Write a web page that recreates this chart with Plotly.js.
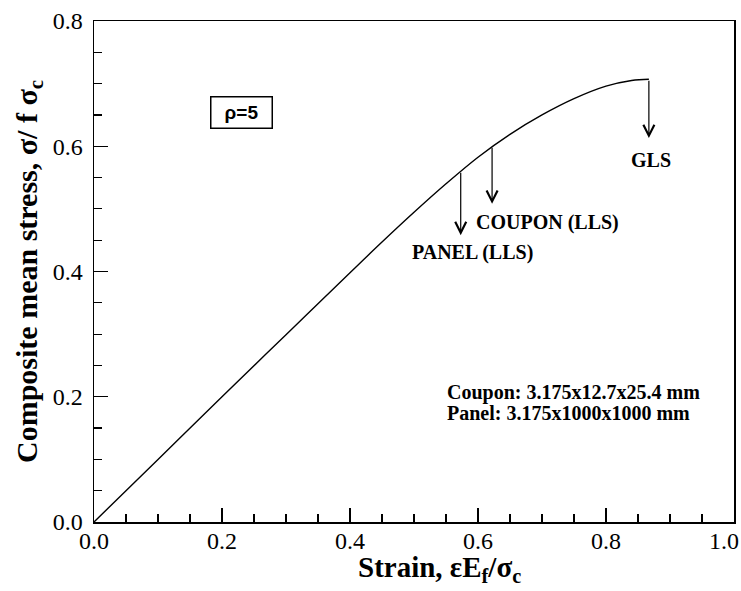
<!DOCTYPE html>
<html>
<head>
<meta charset="utf-8">
<script src="https://cdn.plot.ly/plotly-3.0.1.min.js"></script>
<style>
  html, body { margin: 0; padding: 0; background: #fff; }
  #chart { width: 741px; height: 591px; }
</style>
</head>
<body>
<div id="chart"></div>
<script>
// Normalised strain and composite mean stress (rho = 5)
const strain = [0, 0.1, 0.2, 0.3, 0.4, 0.45, 0.5, 0.55, 0.6, 0.65, 0.7, 0.75, 0.8, 0.84, 0.867];
const stress = [0, 0.1, 0.2, 0.299, 0.398, 0.447, 0.4945, 0.540, 0.5825, 0.619, 0.650, 0.676, 0.696, 0.705, 0.707];

// Failure points marked with arrows: strain at failure, stress on the curve, arrow tip
const failLabels = ['PANEL (LLS)', 'COUPON (LLS)', 'GLS'];
const failStrain = [0.573, 0.622, 0.867];
const failStress = [0.560, 0.600, 0.707];
const failTip = [0.458, 0.508, 0.613];

// Label positions for the failure modes
const labelX = [0.591, 0.709, 0.870];
const labelY = [0.430, 0.478, 0.578];

// Specimen sizes
const specimenNotes = ['Coupon: 3.175x12.7x25.4 mm', 'Panel: 3.175x1000x1000 mm'];
const noteY = [0.206, 0.174];

// Axis ticks
const xTicks = [0, 0.2, 0.4, 0.6, 0.8, 1.0];
const yTicks = [0, 0.2, 0.4, 0.6, 0.8];
const xTickText = ['0.0', '0.2', '0.4', '0.6', '0.8', '1.0'];
const yTickText = ['0.0', '0.2', '0.4', '0.6', '0.8'];

const xTitle = '<b>Strain, εE<sub>f</sub>/σ<sub>c</sub></b>';
const yTitle = '<b>Composite mean stress, σ/ f σ<sub>c</sub></b>';

const serif = 'Liberation Serif';
const tickFont = { family: serif, size: 24, color: '#000' };

const annotations = [];
failStrain.forEach((x, i) => {
  annotations.push({
    x: x, y: failTip[i], xref: 'x', yref: 'y',
    ax: x, ay: failStress[i], axref: 'x', ayref: 'y',
    text: '', showarrow: true,
    arrowhead: 5, arrowsize: 1.8, arrowwidth: 1.2, arrowcolor: '#000'
  });
  annotations.push({
    x: labelX[i], y: labelY[i], xref: 'x', yref: 'y',
    text: '<b>' + failLabels[i] + '</b>', showarrow: false,
    font: { family: serif, size: 20, color: '#000' }
  });
});

specimenNotes.forEach((t, i) => {
  annotations.push({
    x: 0.548, y: noteY[i], xref: 'x', yref: 'y', xanchor: 'left',
    text: '<b>' + t + '</b>', showarrow: false,
    font: { family: serif, size: 20, color: '#000' }
  });
});

// rho label in its frame
annotations.push({
  x: 0.231, y: 0.654, xref: 'x', yref: 'y',
  text: '<b>ρ=5</b>', showarrow: false,
  width: 54, height: 24, borderpad: 3,
  bordercolor: '#000', borderwidth: 1.5, bgcolor: '#fff',
  font: { family: 'Liberation Sans', size: 19, color: '#000' }
});

// last x tick label, kept inside the right edge of the page
const lastTick = xTickText.length - 1;
annotations.push({
  x: 1, y: -0.038, xref: 'paper', yref: 'paper',
  xanchor: 'right', yanchor: 'middle', xshift: 7,
  text: xTickText[lastTick], showarrow: false, font: tickFont
});

// x-axis title, placed under the tick labels
annotations.push({
  x: 0.54, y: -0.094, xref: 'paper', yref: 'paper',
  xanchor: 'center', yanchor: 'middle',
  text: xTitle, showarrow: false,
  font: { family: serif, size: 29, color: '#000' }
});

const trace = {
  x: strain, y: stress, type: 'scatter', mode: 'lines',
  line: { color: '#000', width: 1.4, shape: 'spline', smoothing: 1 },
  hoverinfo: 'skip'
};

function axis(ticks, labels, range) {
  return {
    range: range,
    showline: true, linecolor: '#000', linewidth: 1.5, mirror: true,
    ticks: 'inside', ticklen: 14, tickwidth: 1.2, tickcolor: '#000',
    showgrid: false, zeroline: false,
    tickmode: 'array', tickvals: ticks, ticktext: labels,
    tickfont: tickFont,
    minor: { dtick: 0.05, tick0: 0, ticks: 'inside', ticklen: 8, tickwidth: 1.2, tickcolor: '#000', showgrid: false }
  };
}

const xaxis = axis(xTicks.slice(0, lastTick), xTickText.slice(0, lastTick), [0, 1]);
xaxis.ticklabelstandoff = -3;

const yaxis = axis(yTicks, yTickText, [0, 0.8]);
yaxis.ticklabelstandoff = 5;
yaxis.title = { text: yTitle, font: { family: serif, size: 30, color: '#000' }, standoff: 6 };

const layout = {
  width: 741, height: 591,
  margin: { l: 94, r: 7, t: 21, b: 69 },
  paper_bgcolor: '#fff', plot_bgcolor: '#fff',
  showlegend: false,
  xaxis: xaxis,
  yaxis: yaxis,
  annotations: annotations
};

Plotly.newPlot('chart', [trace], layout, { displayModeBar: false, staticPlot: true });
</script>
</body>
</html>
